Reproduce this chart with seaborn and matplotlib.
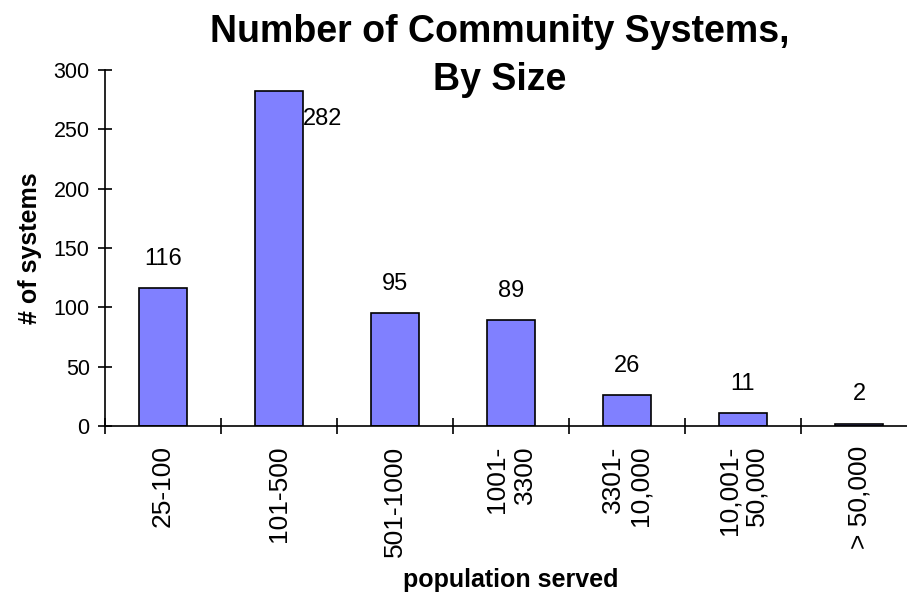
import numpy as np
import pandas as pd
import matplotlib
matplotlib.use('Agg')
import matplotlib.pyplot as plt
import seaborn as sns
from matplotlib import font_manager

# population served categories and number of systems
categories = ['25-100', '101-500', '501-1000', '1001-\n3300', '3301-\n10,000',
              '10,001-\n50,000', '> 50,000']
n_systems = [116, 282, 95, 89, 26, 11, 2]
title_text = 'Number of Community Systems,\nBy Size'


def main():
    sns.set_theme(style='white')
    plt.rcParams['font.family'] = ['Liberation Sans', 'DejaVu Sans']
    for k in ['text.color', 'axes.labelcolor', 'xtick.color', 'ytick.color']:
        plt.rcParams[k] = 'black'

    names = {f.name for f in font_manager.fontManager.ttflist}
    narrow = 'Liberation Sans Narrow' if 'Liberation Sans Narrow' in names else 'Liberation Sans'

    df = pd.DataFrame({'size': categories, 'count': n_systems})

    fig = plt.figure(figsize=(9.07, 5.92), dpi=100)
    W, H = 907, 592
    ax = fig.add_axes([105 / W, (H - 426) / H, 812 / W, 356 / H])

    sns.barplot(data=df, x='size', y='count', color='#8080FF', saturation=1,
                width=0.42, edgecolor='black', linewidth=1.2, ax=ax)

    ax.set_xlim(-0.5, len(categories) - 0.5)
    ax.set_ylim(0, 300)
    ax.set_yticks(np.arange(0, 301, 50))

    # category labels at centres, tick marks at the boundaries
    ax.set_xticks(np.arange(len(categories)))
    ax.set_xticklabels(categories, rotation=90, ha='center', va='top',
                       multialignment='right', fontsize=19, family=narrow)
    ax.set_xticks(np.arange(len(categories) + 1) - 0.5, minor=True)
    ax.tick_params(axis='x', which='major', bottom=True, length=0, pad=14)
    ax.tick_params(axis='x', which='minor', bottom=True, direction='inout',
                   length=11, width=1.2, color='black')
    ax.tick_params(axis='y', left=True, direction='inout', length=10, width=1.2,
                   color='black', labelsize=15.5, pad=6)

    for s in ['top', 'right']:
        ax.spines[s].set_visible(False)
    for s in ['left', 'bottom']:
        ax.spines[s].set_color('black')
        ax.spines[s].set_linewidth(1.2)

    ax.set_xlabel('population served', fontsize=18, fontweight='bold', labelpad=8)
    ax.set_ylabel('# of systems', fontsize=18, fontweight='bold', labelpad=8)

    # value labels
    for i, v in enumerate(n_systems):
        if v == max(n_systems):
            ax.annotate(str(v), (i + 0.21, v), xytext=(0, -20),
                        textcoords='offset points', ha='left', va='center',
                        fontsize=17)
        else:
            ax.annotate(str(v), (i, v), xytext=(0, 21),
                        textcoords='offset points', ha='center', va='center',
                        fontsize=17)

    fig.text(500 / W, 1 - 14 / H, title_text, ha='center', va='top',
             fontsize=27, fontweight='bold', linespacing=1.42)

    fig.savefig('out.png', dpi=100)


if __name__ == '__main__':
    main()
